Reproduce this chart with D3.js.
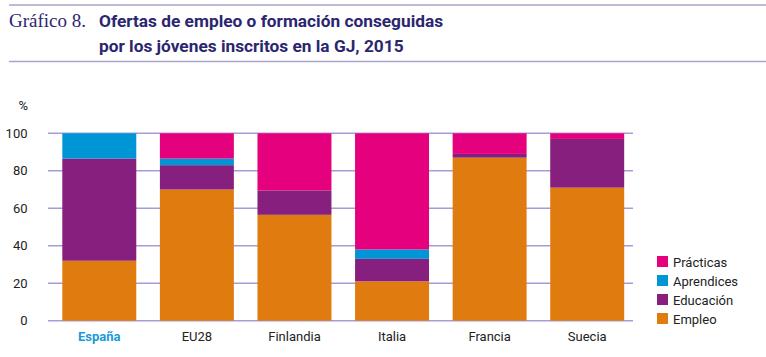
<!DOCTYPE html>
<html><head><meta charset="utf-8">
<script src="https://cdn.jsdelivr.net/npm/d3@7"></script>
<style>body{margin:0;background:#fff;} svg{display:block;}</style>
</head><body>
<svg id="c" width="766" height="357"></svg>
<script>
const categories = ["España","EU28","Finlandia","Italia","Francia","Suecia"];
const seriesNames = ["Empleo","Educación","Aprendices","Prácticas"];
const empleo     = [32, 70, 56.5, 21, 87, 71];
const educacion  = [54.5, 13, 13, 12, 2, 26];
const aprendices = [13.5, 3.5, 0, 5, 0, 0];
const practicas  = [0, 13.5, 30.5, 62, 11, 3];
const yTicks = [0,20,40,60,80,100];
const colors = ["#E07B10","#861F7E","#0096D6","#E5007D"];

const rows = categories.map((c,i)=>({cat:c, "Empleo":empleo[i], "Educación":educacion[i], "Aprendices":aprendices[i], "Prácticas":practicas[i]}));
const svg = d3.select("#c");
const navy = "#2b2670";
const lineCol = "#aaa4c8";
const sans = "Roboto, Inter, sans-serif";

svg.append("line").attr("x1",9).attr("x2",766).attr("y1",5).attr("y2",5).attr("stroke",lineCol).attr("stroke-width",1.5);
svg.append("line").attr("x1",9).attr("x2",766).attr("y1",61.5).attr("y2",61.5).attr("stroke",lineCol).attr("stroke-width",1.5);
svg.append("text").attr("x",9).attr("y",27).attr("font-family","Liberation Serif, DejaVu Serif, serif").attr("font-size",19).attr("fill",navy).text("Gráfico 8.");
const tt = svg.append("text").attr("font-family",sans).attr("font-weight","bold").attr("font-size",17.3).attr("fill",navy);
tt.append("tspan").attr("x",99).attr("y",27).text("Ofertas de empleo o formación conseguidas");
tt.append("tspan").attr("x",99).attr("y",52).text("por los jóvenes inscritos en la GJ, 2015");

const y = d3.scaleLinear().domain([0,100]).range([320.7,133.3]);
const x = d3.scaleBand().domain(categories).range([50.5,636]).paddingInner(0.242).paddingOuter(0.121);

const grid = svg.append("g");
grid.selectAll("line").data(yTicks).join("line")
  .attr("x1",48).attr("x2",633).attr("y1",d=>y(d)).attr("y2",d=>y(d))
  .attr("stroke","#a79cd6").attr("stroke-width",1.5);

const yAxis = d3.axisLeft(y).tickValues(yTicks).tickSize(0).tickPadding(0);
const ya = svg.append("g").attr("transform","translate(27.5,0)").call(yAxis);
ya.select(".domain").remove();
ya.selectAll("text").attr("font-family",sans).attr("font-size",13).attr("fill","#222");
svg.append("text").attr("x",28).attr("y",110).attr("text-anchor","end").attr("font-family",sans).attr("font-size",13).attr("fill","#222").text("%");

const stack = d3.stack().keys(seriesNames)(rows);
svg.append("g").selectAll("g").data(stack).join("g").attr("fill",(d,i)=>colors[i])
  .selectAll("rect").data(d=>d).join("rect")
  .attr("x",d=>x(d.data.cat)).attr("width",x.bandwidth())
  .attr("y",d=>y(d[1])).attr("height",d=>y(d[0])-y(d[1]));

const xAxis = d3.axisBottom(x).tickSize(0).tickPadding(0);
const xa = svg.append("g").attr("transform","translate(0,331.5)").call(xAxis);
xa.select(".domain").remove();
xa.selectAll("text").attr("font-family",sans).attr("font-size",13)
  .attr("font-weight",d=>d==="España"?"bold":"normal").attr("fill",d=>d==="España"?"#1a9ad8":"#222");

const legendItems = ["Prácticas","Aprendices","Educación","Empleo"];
const lg = svg.append("g").selectAll("g").data(legendItems).join("g")
  .attr("transform",(d,i)=>`translate(657,${256+i*19})`);
lg.append("rect").attr("width",11).attr("height",11).attr("fill",d=>colors[seriesNames.indexOf(d)]);
lg.append("text").attr("x",16).attr("y",10.5).attr("font-family",sans).attr("font-size",13).attr("fill","#222").text(d=>d);
</script>
</body></html>
